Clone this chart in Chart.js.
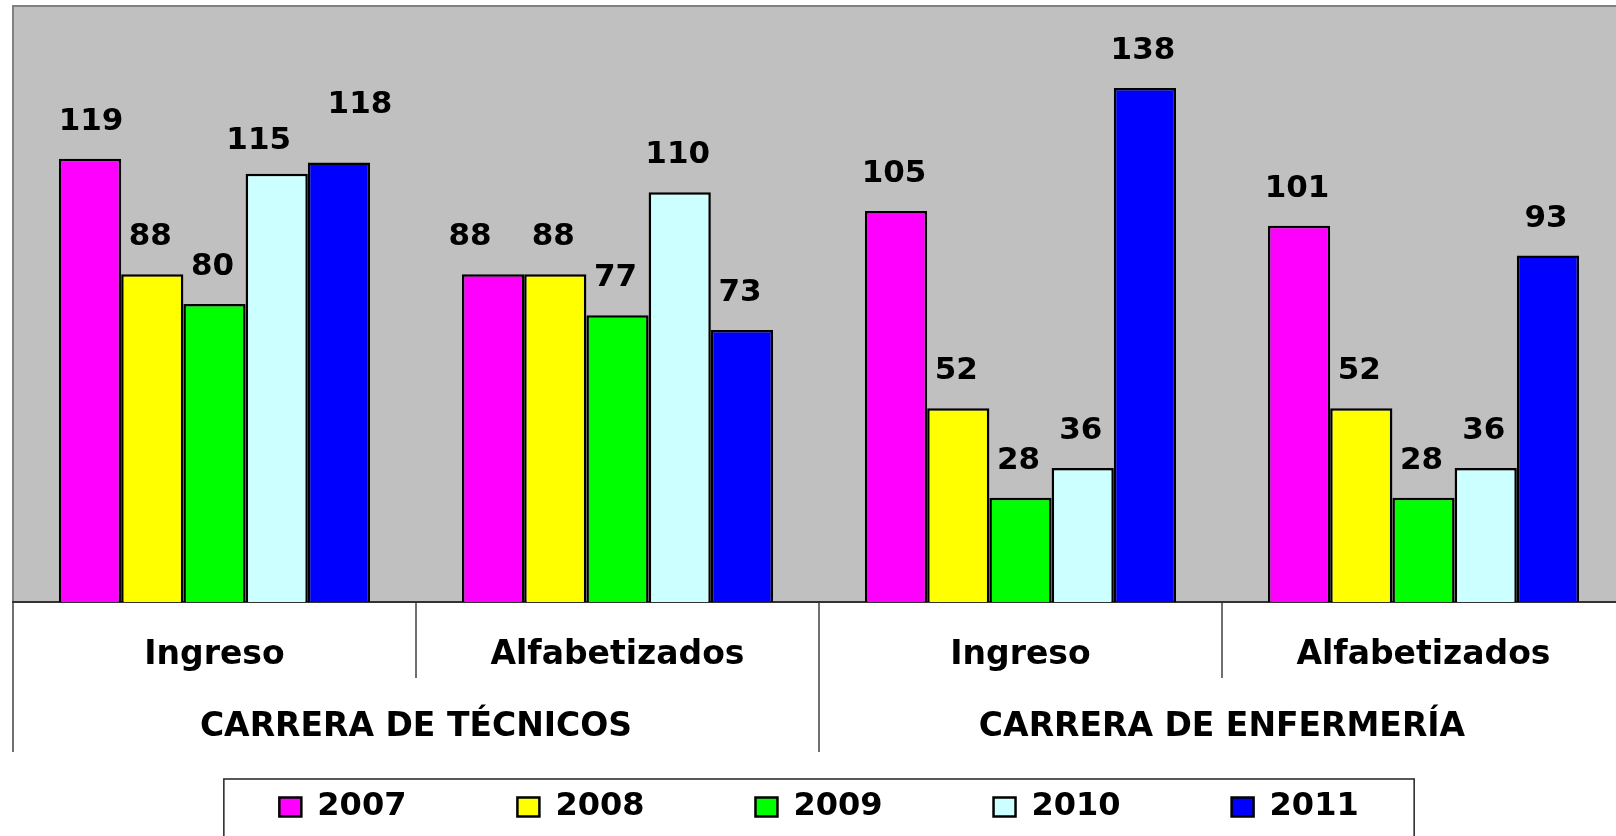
<!DOCTYPE html>
<html>
<head>
<meta charset="utf-8">
<script src="https://cdn.jsdelivr.net/npm/chart.js@4.4.1/dist/chart.umd.min.js"></script>
<style>
  html, body { margin: 0; padding: 0; background: #ffffff; overflow: hidden; }
  #wrap { position: absolute; left: 0; top: 0; }
  canvas { display: block; }
</style>
</head>
<body>
<div id="wrap"><canvas id="c" width="1630" height="905"></canvas></div>
<script>
// ---- data ----
const subCategories = ['Ingreso', 'Alfabetizados', 'Ingreso', 'Alfabetizados'];
const groupCategories = ['CARRERA DE TÉCNICOS', 'CARRERA DE ENFERMERÍA'];
const years = ['2007', '2008', '2009', '2010', '2011'];
const values2007 = [119, 88, 105, 101];
const values2008 = [88, 88, 52, 52];
const values2009 = [80, 77, 28, 28];
const values2010 = [115, 110, 36, 36];
const values2011 = [118, 73, 138, 93];

const seriesValues = [values2007, values2008, values2009, values2010, values2011];
const seriesColors = ['#FF00FF', '#FFFF00', '#00FF00', '#CCFFFF', '#0000FF'];

const FONT = '"DejaVu Sans", "Liberation Sans", Arial, sans-serif';

const plotBackground = {
  id: 'plotBackground',
  beforeDraw(chart) {
    const { ctx, chartArea: a } = chart;
    ctx.save();
    ctx.fillStyle = '#C0C0C0';
    ctx.fillRect(a.left, a.top, a.right - a.left, a.bottom - a.top);
    ctx.strokeStyle = '#808080';
    ctx.lineWidth = 2;
    ctx.beginPath();
    ctx.moveTo(a.left, a.bottom);
    ctx.lineTo(a.left, a.top);
    ctx.lineTo(a.right + 10, a.top);
    ctx.stroke();
    ctx.restore();
  }
};

const valueLabels = {
  id: 'valueLabels',
  afterDatasetsDraw(chart, args, opts) {
    const ctx = chart.ctx;
    ctx.save();
    ctx.font = 'bold 31px ' + FONT;
    ctx.fillStyle = '#000000';
    ctx.textAlign = 'center';
    ctx.textBaseline = 'middle';
    chart.data.datasets.forEach((ds, di) => {
      chart.getDatasetMeta(di).data.forEach((bar, i) => {
        const adj = opts.adjust[di + '-' + i] || [-2, 0];
        ctx.fillText(String(ds.data[i]), bar.x + adj[0], bar.y - opts.gap + adj[1]);
      });
    });
    ctx.restore();
  }
};

const legendFrame = {
  id: 'legendFrame',
  afterUpdate(chart, args, opts) {
    const lg = chart.legend;
    if (!lg) return;
    const target = chart.chartArea.bottom + opts.offset;
    const dy = lg.top - target;
    lg.top -= dy;
    lg.bottom -= dy;
  },
  afterDraw(chart) {
    const lg = chart.legend;
    if (!lg || !lg.lineWidths) return;
    const pad = lg.options.labels.padding;
    const w = lg.lineWidths[0];
    const cx = (lg.left + lg.right) / 2;
    const ctx = chart.ctx;
    ctx.save();
    ctx.strokeStyle = '#222222';
    ctx.lineWidth = 1.5;
    ctx.strokeRect(cx - w / 2, lg.top + pad - 12, w, 300);
    ctx.restore();
  }
};

new Chart(document.getElementById('c'), {
  type: 'bar',
  data: {
    labels: subCategories,
    datasets: years.map((y, k) => ({
      label: y,
      data: seriesValues[k],
      backgroundColor: seriesColors[k],
      borderColor: '#000000',
      borderWidth: 2.5,
      categoryPercentage: 0.772,
      barPercentage: 1.0
    }))
  },
  options: {
    responsive: false,
    animation: false,
    devicePixelRatio: 1,
    layout: { padding: { left: 13, right: 5, top: 6, bottom: 0 } },
    scales: {
      y: { display: false, min: 0, max: 160 },
      x: {
        position: 'bottom',
        offset: true,
        grid: { offset: true, drawOnChartArea: false, drawTicks: true, tickLength: 76, color: '#707070', lineWidth: 2 },
        border: { display: true, color: '#333333', width: 2 },
        ticks: { color: '#000000', font: { family: FONT, size: 33, weight: 'bold' }, padding: -42, maxRotation: 0, autoSkip: false },
        afterFit: (scale) => { scale.height = 76; }
      },
      x2: {
        type: 'category',
        position: 'bottom',
        labels: groupCategories,
        offset: true,
        grid: { offset: true, drawOnChartArea: false, drawTicks: true, tickLength: 74, color: '#707070', lineWidth: 2 },
        border: { display: false },
        ticks: { color: '#000000', font: { family: FONT, size: 33, weight: 'bold' }, padding: -44, maxRotation: 0, autoSkip: false },
        afterFit: (scale) => { scale.height = 74; }
      }
    },
    plugins: {
      tooltip: { enabled: false },
      legend: {
        position: 'bottom',
        labels: {
          color: '#000000',
          font: { family: FONT, size: 32, weight: 'bold' },
          boxWidth: 22,
          boxHeight: 19,
          padding: 111
        }
      },
      valueLabels: {
        gap: 37,
        adjust: { '3-0': [-18, 4], '4-0': [21, -20], '0-1': [-23, 0], '0-0': [1, 0] }
      },
      legendFrame: { offset: 78 }
    }
  },
  plugins: [plotBackground, valueLabels, legendFrame]
});
</script>
</body>
</html>
